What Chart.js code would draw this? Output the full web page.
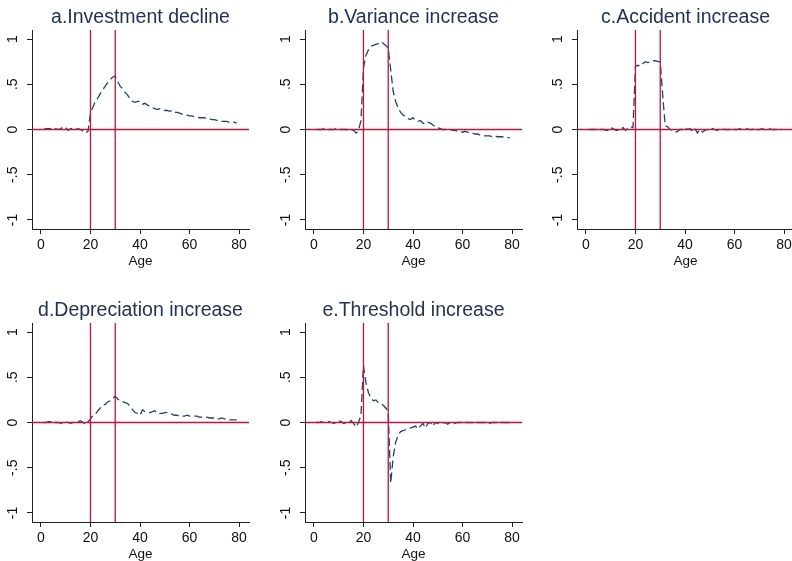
<!DOCTYPE html>
<html>
<head>
<meta charset="utf-8">
<script src="https://cdn.jsdelivr.net/npm/chart.js@4.4.1/dist/chart.umd.min.js"></script>
<style>
  html, body { margin: 0; padding: 0; background: #fff; width: 792px; height: 561px; overflow: hidden; }
  canvas { position: absolute; }
</style>
</head>
<body>
<canvas id="pa" width="264" height="280" style="left:0;top:0"></canvas>
<canvas id="pb" width="264" height="280" style="left:273px;top:0"></canvas>
<canvas id="pc" width="264" height="280" style="left:545px;top:0"></canvas>
<canvas id="pd" width="264" height="280" style="left:0;top:293px"></canvas>
<canvas id="pe" width="264" height="280" style="left:273px;top:293px"></canvas>
<script>
// ages on the x axis
const ages = [1, 2, 3, 4, 5, 6, 7, 8, 9, 10, 11, 12, 13, 14, 15, 16, 17, 18, 19, 20,
  21, 22, 23, 24, 25, 26, 27, 28, 29, 30, 31, 32, 33, 34, 35, 36, 37, 38, 39, 40,
  41, 42, 43, 44, 45, 46, 47, 48, 49, 50, 51, 52, 53, 54, 55, 56, 57, 58, 59, 60,
  61, 62, 63, 64, 65, 66, 67, 68, 69, 70, 71, 72, 73, 74, 75, 76, 77, 78, 79];

const investmentDecline = [0.00, 0.01, 0.01, 0.01, 0.00, 0.01, 0.00, 0.01, 0.03, 0.02,
  -0.01, 0.01, 0.01, 0.00, 0.01, 0.00, -0.02, -0.04, -0.02, 0.18,
  0.25, 0.31, 0.35, 0.40, 0.44, 0.48, 0.52, 0.55, 0.58, 0.59,
  0.53, 0.48, 0.45, 0.41, 0.38, 0.34, 0.31, 0.30, 0.31, 0.31,
  0.28, 0.29, 0.27, 0.26, 0.24, 0.23, 0.22, 0.23, 0.22, 0.21,
  0.21, 0.20, 0.21, 0.19, 0.19, 0.18, 0.17, 0.17, 0.16, 0.15,
  0.15, 0.14, 0.14, 0.13, 0.13, 0.13, 0.12, 0.12, 0.11, 0.11,
  0.10, 0.10, 0.09, 0.09, 0.09, 0.08, 0.08, 0.08, 0.07];

const varianceIncrease = [0.00, 0.00, 0.00, 0.01, 0.01, 0.00, 0.00, 0.00, 0.01, 0.01,
  0.00, 0.00, 0.00, -0.01, 0.00, -0.01, -0.04, -0.01, 0.10, 0.68,
  0.82, 0.88, 0.92, 0.93, 0.94, 0.95, 0.97, 0.95, 0.93, 0.90,
  0.66, 0.42, 0.31, 0.24, 0.19, 0.16, 0.14, 0.12, 0.11, 0.13,
  0.10, 0.09, 0.10, 0.07, 0.06, 0.08, 0.07, 0.05, 0.03, 0.02,
  0.01, 0.00, 0.00, 0.01, 0.00, -0.01, -0.01, -0.02, -0.02, -0.03,
  -0.02, -0.03, -0.04, -0.04, -0.05, -0.05, -0.06, -0.06, -0.07, -0.07,
  -0.07, -0.08, -0.07, -0.08, -0.08, -0.08, -0.09, -0.09, -0.09];

const accidentIncrease = [0.00, 0.00, 0.00, 0.00, 0.00, 0.00, 0.00, -0.01, -0.01, 0.02,
  0.01, -0.01, -0.01, 0.00, 0.02, -0.01, 0.02, 0.03, 0.02, 0.70,
  0.71, 0.70, 0.73, 0.75, 0.74, 0.75, 0.76, 0.76, 0.75, 0.75,
  0.38, 0.04, 0.03, 0.00, -0.01, -0.03, -0.02, 0.00, 0.00, 0.02,
  0.00, 0.01, -0.02, 0.01, -0.04, 0.00, -0.03, -0.01, 0.00, -0.01,
  0.01, 0.00, -0.01, 0.01, 0.01, 0.00, 0.00, 0.00, 0.01, 0.00,
  0.00, 0.01, 0.00, 0.00, 0.01, 0.00, 0.00, 0.01, 0.00, 0.00,
  0.01, 0.00, 0.00, 0.01, 0.00, 0.00, 0.00, 0.01, 0.00];

const depreciationIncrease = [0.00, 0.00, 0.01, 0.01, 0.00, 0.00, 0.00, -0.01, 0.00, 0.01,
  0.00, -0.01, 0.00, 0.00, 0.01, 0.02, 0.00, -0.02, 0.01, 0.04,
  0.08, 0.09, 0.13, 0.16, 0.19, 0.20, 0.23, 0.24, 0.27, 0.29,
  0.26, 0.24, 0.23, 0.22, 0.21, 0.18, 0.14, 0.11, 0.10, 0.08,
  0.14, 0.12, 0.11, 0.11, 0.12, 0.13, 0.10, 0.10, 0.10, 0.11,
  0.11, 0.10, 0.09, 0.08, 0.08, 0.07, 0.07, 0.07, 0.08, 0.07,
  0.07, 0.07, 0.07, 0.06, 0.06, 0.06, 0.06, 0.05, 0.05, 0.05,
  0.04, 0.04, 0.05, 0.04, 0.04, 0.03, 0.03, 0.03, 0.03];

const thresholdIncrease = [0.00, 0.00, 0.01, 0.00, 0.01, 0.01, 0.00, -0.01, 0.00, 0.02,
  0.01, -0.01, 0.00, 0.00, 0.02, -0.01, -0.05, 0.00, 0.08, 0.63,
  0.44, 0.33, 0.27, 0.24, 0.25, 0.22, 0.21, 0.19, 0.16, 0.12,
  -0.67, -0.38, -0.22, -0.14, -0.10, -0.09, -0.08, -0.07, -0.06, -0.05,
  -0.04, -0.07, -0.04, -0.01, -0.06, -0.01, 0.00, -0.04, 0.00, -0.01,
  0.01, -0.01, 0.00, -0.02, 0.00, 0.00, -0.01, 0.00, 0.00, 0.00,
  0.00, 0.00, 0.00, 0.00, -0.01, 0.00, 0.00, 0.00, 0.00, 0.00,
  -0.01, 0.00, 0.00, 0.00, 0.00, 0.00, 0.00, 0.00, 0.00];

const titles = ['a.Investment decline', 'b.Variance increase', 'c.Accident increase',
  'd.Depreciation increase', 'e.Threshold increase'];

// axis ticks and reference lines
const xTicks = [0, 20, 40, 60, 80];
const yTicks = [-1, -0.5, 0, 0.5, 1];
const yTickLabels = ['-1', '-.5', '0', '.5', '1'];
const refAges = [20, 30];
const refLevel = 0;
const xRange = [-3.6, 84];
const yRange = [-1.1, 1.1];

const FONT = '"Liberation Sans", Arial, Helvetica, sans-serif';
const RED = '#c8103c';
const NAVY = '#1a476f';
const AXIS = '#222';

Chart.defaults.font.family = FONT;

// y tick labels in the picture are rotated, Chart.js can't rotate vertical-axis labels
const rotatedYLabels = {
  id: 'rotatedYLabels',
  afterDraw(chart) {
    const s = chart.scales.y;
    const ctx = chart.ctx;
    ctx.save();
    ctx.font = '14px ' + FONT;
    ctx.fillStyle = '#111';
    ctx.textAlign = 'center';
    ctx.textBaseline = 'middle';
    yTicks.forEach((v, i) => {
      ctx.save();
      ctx.translate(s.right - 19, s.getPixelForValue(v));
      ctx.rotate(-Math.PI / 2);
      ctx.fillText(yTickLabels[i], 0, 0);
      ctx.restore();
    });
    ctx.restore();
  }
};

function makePanel(canvasId, title, values) {
  const datasets = [];

  refAges.forEach(a => {
    datasets.push({
      data: [{ x: a, y: yRange[0] }, { x: a, y: yRange[1] }],
      borderColor: RED,
      borderWidth: 1.3,
      pointRadius: 0
    });
  });
  datasets.push({
    data: [{ x: xRange[0], y: refLevel }, { x: xRange[1], y: refLevel }],
    borderColor: RED,
    borderWidth: 1.4,
    pointRadius: 0
  });

  datasets.push({
    data: ages.map((a, i) => ({ x: a, y: values[i] })),
    borderColor: NAVY,
    borderWidth: 1.3,
    borderDash: [8, 4],
    pointRadius: 0,
    tension: 0
  });

  const axisGrid = { drawOnChartArea: false, drawTicks: true, tickLength: 5, color: AXIS, lineWidth: 1 };
  const axisBorder = { display: true, color: AXIS, width: 1 };

  return new Chart(document.getElementById(canvasId), {
    type: 'line',
    data: { datasets: datasets },
    options: {
      responsive: false,
      animation: false,
      events: [],
      layout: { padding: { left: 0, right: 15, top: 0, bottom: 0 } },
      plugins: {
        legend: { display: false },
        tooltip: { enabled: false },
        title: {
          display: true,
          text: title,
          color: '#23325a',
          fullSize: false,
          font: { size: 19.5, weight: 'normal', family: FONT },
          padding: { top: 6, bottom: 0.6 }
        }
      },
      scales: {
        x: {
          type: 'linear',
          min: xRange[0],
          max: xRange[1],
          afterBuildTicks: s => { s.ticks = xTicks.map(v => ({ value: v })); },
          grid: axisGrid,
          border: axisBorder,
          ticks: { color: '#111', font: { size: 14 }, padding: 3, maxRotation: 0, autoSkip: false },
          title: {
            display: true,
            text: 'Age',
            color: '#111',
            font: { size: 13.5 },
            padding: { top: 0, bottom: 11 }
          },
          afterFit: s => { s.height = 51; }
        },
        y: {
          type: 'linear',
          min: yRange[0],
          max: yRange[1],
          afterBuildTicks: s => { s.ticks = yTicks.map(v => ({ value: v })); },
          grid: axisGrid,
          border: axisBorder,
          ticks: { display: false },
          afterFit: s => { s.width = 32; }
        }
      }
    },
    plugins: [rotatedYLabels]
  });
}

makePanel('pa', titles[0], investmentDecline);
makePanel('pb', titles[1], varianceIncrease);
makePanel('pc', titles[2], accidentIncrease);
makePanel('pd', titles[3], depreciationIncrease);
makePanel('pe', titles[4], thresholdIncrease);
</script>
</body>
</html>
